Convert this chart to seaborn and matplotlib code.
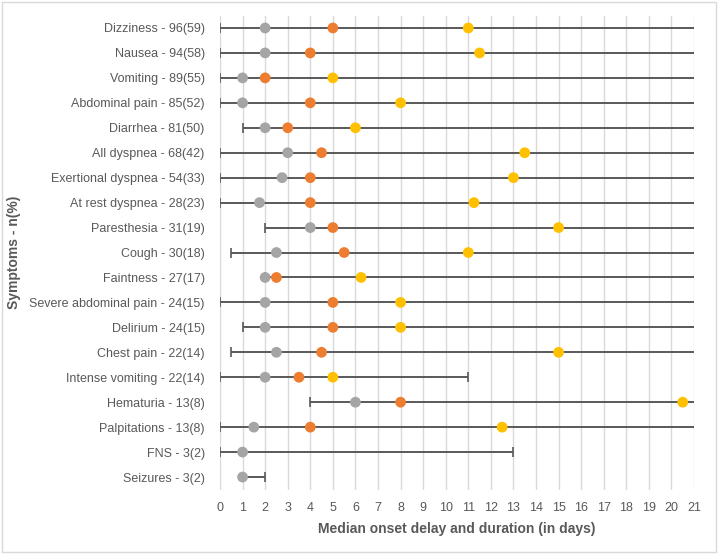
import pandas as pd
import matplotlib.pyplot as plt
import seaborn as sns
from matplotlib.patches import Rectangle

sns.set_theme(style="white")
plt.rcParams['font.family'] = ['Liberation Sans', 'DejaVu Sans']

# Data
symptoms = ["Dizziness - 96(59)", "Nausea - 94(58)", "Vomiting - 89(55)",
            "Abdominal pain - 85(52)", "Diarrhea - 81(50)", "All dyspnea - 68(42)",
            "Exertional dyspnea - 54(33)", "At rest dyspnea - 28(23)",
            "Paresthesia - 31(19)", "Cough - 30(18)", "Faintness - 27(17)",
            "Severe abdominal pain - 24(15)", "Delirium - 24(15)",
            "Chest pain - 22(14)", "Intense vomiting - 22(14)",
            "Hematuria - 13(8)", "Palpitations - 13(8)", "FNS - 3(2)",
            "Seizures - 3(2)"]
range_start = [0, 0, 0, 0, 1, 0, 0, 0, 2, 0.5, 2, 0, 1, 0.5, 0, 4, 0, 0, 1]
range_end = [21, 21, 21, 21, 21, 21, 21, 21, 21, 21, 21, 21, 21, 21, 11, 21, 21, 13, 2]
gray_vals = [2, 2, 1, 1, 2, 3, 2.75, 1.75, 4, 2.5, 2, 2, 2, 2.5, 2, 6, 1.5, 1, 1]
orange_vals = [5, 4, 2, 4, 3, 4.5, 4, 4, 5, 5.5, 2.5, 5, 5, 4.5, 3.5, 8, 4, None, None]
yellow_vals = [11, 11.5, 5, 8, 6, 13.5, 13, 11.25, 15, 11, 6.25, 8, 8, 15, 5, 20.5, 12.5, None, None]

pos = list(range(len(symptoms)))
rows = []
for i in pos:
    for name, vals in [("gray", gray_vals), ("orange", orange_vals), ("yellow", yellow_vals)]:
        if vals[i] is not None:
            rows.append({"pos": i, "value": vals[i], "series": name})
points = pd.DataFrame(rows)

fig = plt.figure(figsize=(7.18, 5.54), dpi=100)
ax = fig.add_axes([0.3064, 0.1164, 0.6602, 0.8556])

line_col = "#595959"
ax.hlines(pos, range_start, range_end, color=line_col, linewidth=1.4, zorder=2)
# caps at ends
cap_x = [s for s in range_start] + [e for e in range_end if e < 21]
cap_y = pos + [p for p, e in zip(pos, range_end) if e < 21]
ax.scatter(cap_x, cap_y, marker="|", s=45, color=line_col, linewidths=1.2, zorder=2)

palette = {"gray": "#a5a5a5", "orange": "#ed7d31", "yellow": "#ffc000"}
sns.scatterplot(data=points, x="value", y="pos", hue="series", palette=palette,
                s=60, edgecolor="none", legend=False, ax=ax, zorder=3)

ax.set_xlim(0, 21)
ax.set_ylim(len(symptoms) - 0.5, -0.5)
ax.set_xticks(range(0, 22))
ax.set_yticks(pos)
ax.set_yticklabels(symptoms)
ax.grid(axis="x", color="#d9d9d9", linewidth=1)
ax.set_axisbelow(True)
for sp in ax.spines.values():
    sp.set_visible(False)
ax.tick_params(axis="both", length=0, labelsize=9, colors="#595959")
ax.tick_params(axis="y", pad=11)
ax.tick_params(axis="x", pad=9)
ax.set_xlabel("Median onset delay and duration (in days)", fontsize=10,
              fontweight="bold", color="#595959", labelpad=6)
ax.set_ylabel("Symptoms - n(%)", fontsize=10, fontweight="bold", color="#595959")
ax.yaxis.set_label_coords(-0.42, 0.5)

fig.patches.append(Rectangle((0.003, 0.003), 0.994, 0.994, transform=fig.transFigure,
                             fill=False, edgecolor="#d9d9d9", linewidth=1))

fig.savefig("out.png", dpi=100)
